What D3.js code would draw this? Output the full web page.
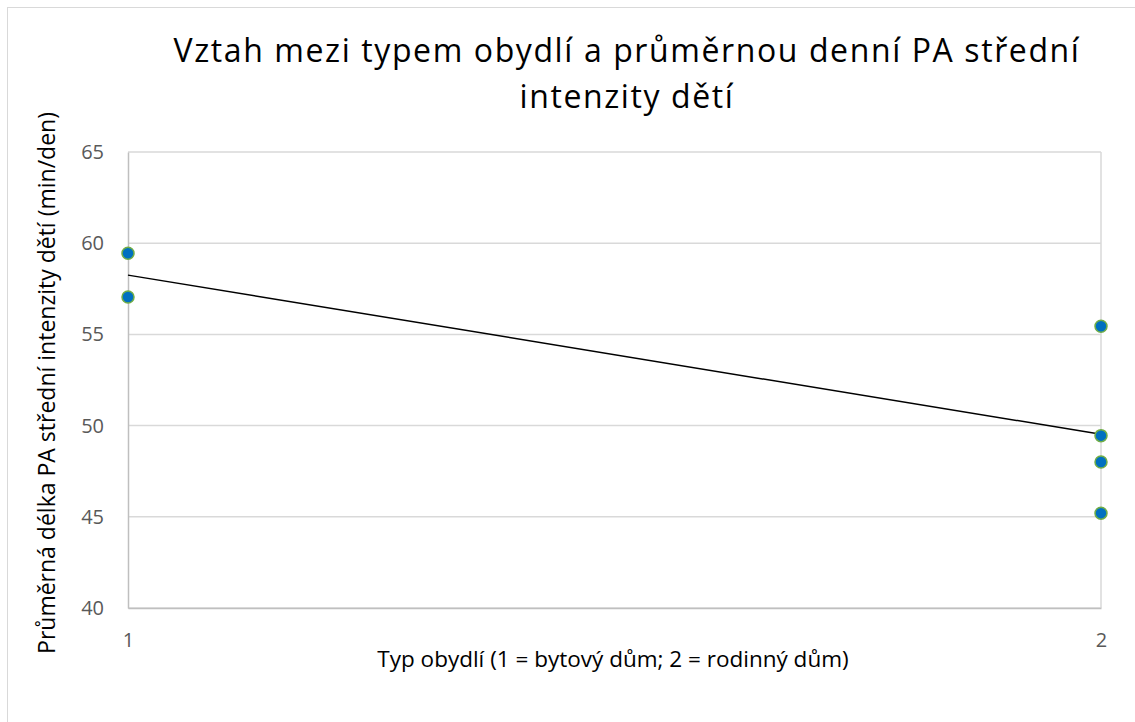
<!DOCTYPE html>
<meta charset="utf-8">
<script src="https://d3js.org/d3.v7.min.js"></script>
<style>
  body { margin: 0; background: #fff; }
  text { font-family: "Open Sans", "Liberation Sans", sans-serif; }
</style>
<body>
<div id="chart"></div>
<script>
// data
var housingType = [1, 1, 2, 2, 2, 2];
var activityMin = [59.45, 57.05, 55.45, 49.45, 48.0, 45.2];
var yTicks = [40, 45, 50, 55, 60, 65];
var xTicks = [1, 2];

var titleLines = ["Vztah mezi typem obydlí a průměrnou denní PA střední", "intenzity dětí"];
var xLabel = "Typ obydlí (1 = bytový dům; 2 = rodinný dům)";
var yLabel = "Průměrná délka PA střední intenzity dětí (min/den)";

var W = 1135, H = 722;
var margin = {top: 152, right: 34, bottom: 114, left: 128};
var width = W - margin.left - margin.right,
    height = H - margin.top - margin.bottom;

var svg = d3.select("#chart").append("svg")
    .attr("width", W).attr("height", H);

// outer chart border
svg.append("rect")
    .attr("x", 7.5).attr("y", 7.5)
    .attr("width", W).attr("height", H)
    .attr("fill", "none").attr("stroke", "#d9d9d9");

var g = svg.append("g")
    .attr("transform", "translate(" + margin.left + "," + margin.top + ")");

var x = d3.scaleLinear().domain([1, 2]).range([0, width]);
var y = d3.scaleLinear().domain([40, 65]).range([height, 0]);

// horizontal gridlines
g.selectAll(".hgrid").data(yTicks).enter().append("line")
    .attr("x1", 0).attr("x2", width)
    .attr("y1", function(d) { return y(d); })
    .attr("y2", function(d) { return y(d); })
    .attr("stroke", "#d9d9d9").attr("stroke-width", 1.5);

// vertical gridline at x = 2
g.append("line")
    .attr("x1", x(2)).attr("x2", x(2))
    .attr("y1", 0).attr("y2", height)
    .attr("stroke", "#d9d9d9").attr("stroke-width", 1.5);

// axes
var yAxis = g.append("g").call(d3.axisLeft(y).tickValues(yTicks).tickSize(0).tickPadding(24));
var xAxis = g.append("g").attr("transform", "translate(0," + height + ")")
    .call(d3.axisBottom(x).tickValues(xTicks).tickFormat(d3.format("d")).tickSize(0).tickPadding(25));

[yAxis, xAxis].forEach(function(a) {
  a.select(".domain").attr("stroke", "#bfbfbf").attr("stroke-width", 1.5);
  a.selectAll("text").attr("fill", "#595959").style("font-size", "20px")
      .style("font-family", "'Open Sans', sans-serif");
});

// linear trend line (least squares)
var mx = d3.mean(housingType), my = d3.mean(activityMin);
var sxy = d3.sum(housingType, function(d, i) { return (d - mx) * (activityMin[i] - my); });
var sxx = d3.sum(housingType, function(d) { return (d - mx) * (d - mx); });
var slope = sxy / sxx, icpt = my - slope * mx;

g.append("line")
    .attr("x1", x(1)).attr("y1", y(icpt + slope * 1))
    .attr("x2", x(2)).attr("y2", y(icpt + slope * 2))
    .attr("stroke", "#000").attr("stroke-width", 1.5);

// points
g.selectAll(".dot").data(activityMin).enter().append("circle")
    .attr("cx", function(d, i) { return x(housingType[i]); })
    .attr("cy", function(d) { return y(d); })
    .attr("r", 6)
    .attr("fill", "#0070c0")
    .attr("stroke", "#70ad47").attr("stroke-width", 1.5);

// title
svg.selectAll(".title").data(titleLines).enter().append("text")
    .attr("x", 627).attr("y", function(d, i) { return 62 + i * 46; })
    .attr("text-anchor", "middle")
    .style("font-size", "32px").style("letter-spacing", "1.6px").attr("fill", "#000")
    .text(function(d) { return d; });

// axis titles
svg.append("text")
    .attr("x", 613).attr("y", 667)
    .attr("text-anchor", "middle")
    .style("font-size", "22.5px").attr("fill", "#000")
    .text(xLabel);

svg.append("text")
    .attr("transform", "translate(55,383) rotate(-90)")
    .attr("text-anchor", "middle")
    .style("font-size", "23px").attr("fill", "#000")
    .text(yLabel);
</script>
</body>
